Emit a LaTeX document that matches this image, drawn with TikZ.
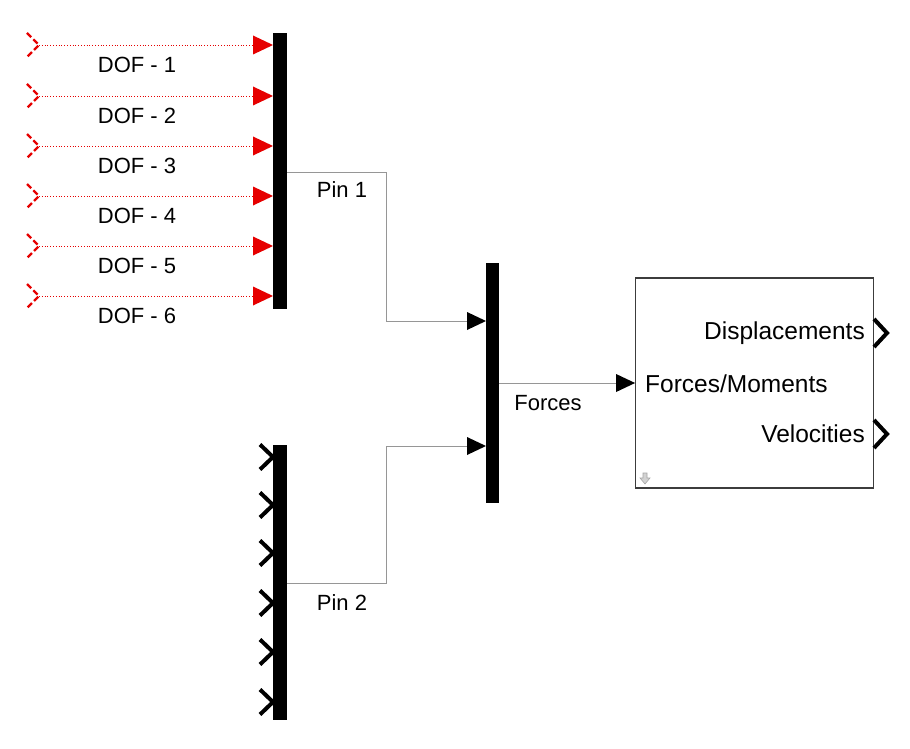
\documentclass[tikz,border=0pt]{standalone}
\usepackage{fontspec}
\setmainfont{Liberation Sans}
\usetikzlibrary{arrows.meta,calc}
\definecolor{sigred}{RGB}{230,0,0}
\definecolor{wiregray}{RGB}{150,150,150}
\definecolor{boxgray}{RGB}{60,60,60}
\tikzset{
  x=1pt, y=-1pt,
  busbar/.style={draw=none, fill=black, minimum width=14pt, inner sep=0pt, outer sep=0pt},
  redsig/.style={sigred, dotted, line width=0.8pt, -{Triangle[length=20pt,width=19pt,fill=sigred,line width=0pt]}},
  graysig/.style={wiregray, line width=1pt, -{Triangle[length=19pt,width=18pt,fill=black,color=black,line width=0pt]}},
  graywire/.style={wiregray, line width=1pt},
  redchev/.style={sigred, line width=2.4pt, dash pattern=on 6pt off 3pt},
  blackchev/.style={black, line width=4pt, line join=miter, line cap=butt},
  lbl/.style={font=\fontsize{22}{26}\selectfont, inner sep=0pt},
  blbl/.style={font=\fontsize{24.5}{29}\selectfont, inner sep=0pt},
  blockbox/.style={draw=boxgray, line width=1.3pt, fill=white, minimum width=238pt, minimum height=210pt, inner sep=0pt}
}
\begin{document}
\begin{tikzpicture}
\useasboundingbox (0,0) rectangle (910,749);
\fill[white] (0,0) rectangle (910,749);

% bars and block
\node[busbar, minimum height=276pt] (bus1) at (280,171) {};
\node[busbar, minimum height=275pt] (bus2) at (280,582.5) {};
\node[busbar, minimum width=13.5pt, minimum height=240pt] (mux) at (492.5,383) {};
\node[blockbox] (blk) at (754.75,383) {};

% DOF inputs
\foreach \i/\y in {1/45,2/96,3/146,4/196,5/246,6/296}{
  \coordinate (in\i) at (39,\y);
  \draw[redchev] ($(in\i)+(-12,-12)$) -- (in\i) -- ($(in\i)+(-12,12)$);
  \draw[redsig] (in\i) -- (in\i -| bus1.west);
  \node[lbl] (dof\i) at (137,\y+20) {DOF - \i};
}

% Pin 2 bus inputs (unconnected)
\foreach \i/\y in {1/457,2/505,3/553,4/603,5/652,6/702}{
  \coordinate (p\i) at (273,\y);
  \draw[blackchev] ($(p\i)+(-13,-12.5)$) -- (p\i) -- ($(p\i)+(-13,12.5)$);
}

% connections to mux
\coordinate (m1) at (486,321);
\coordinate (m2) at (486,446);
\draw[graysig] (bus1.east |- 0,172) -- (386.5,172) -- (386.5,321) -- (m1);
\draw[graysig] (bus2.east |- 0,583) -- (386.5,583) -- (386.5,446) -- (m2);
\node[lbl] (pin1) at (342,190) {Pin 1};
\node[lbl] (pin2) at (342,603) {Pin 2};

% forces to block
\draw[graysig] (mux.east |- 0,383) -- (blk.west |- 0,383);
\node[lbl] (forces) at (548,403) {Forces};

% block labels
\node[blbl, anchor=east] (disp) at (865,333) {Displacements};
\node[blbl, anchor=west] (fm) at (645,384) {Forces/Moments};
\node[blbl, anchor=east] (vel) at (865,434) {Velocities};

% output chevrons
\coordinate (o1) at (887,333);
\coordinate (o2) at (887,434);
\draw[blackchev] ($(o1)+(-13,-14)$) -- (o1) -- ($(o1)+(-13,14)$);
\draw[blackchev] ($(o2)+(-13,-14)$) -- (o2) -- ($(o2)+(-13,14)$);

% small gray icon
\draw[gray!70, fill=gray!35, line width=0.6pt] (643,473) -- (647,473) -- (647,478) -- (650,478) -- (645,484) -- (640,478) -- (643,478) -- cycle;
\end{tikzpicture}
\end{document}
